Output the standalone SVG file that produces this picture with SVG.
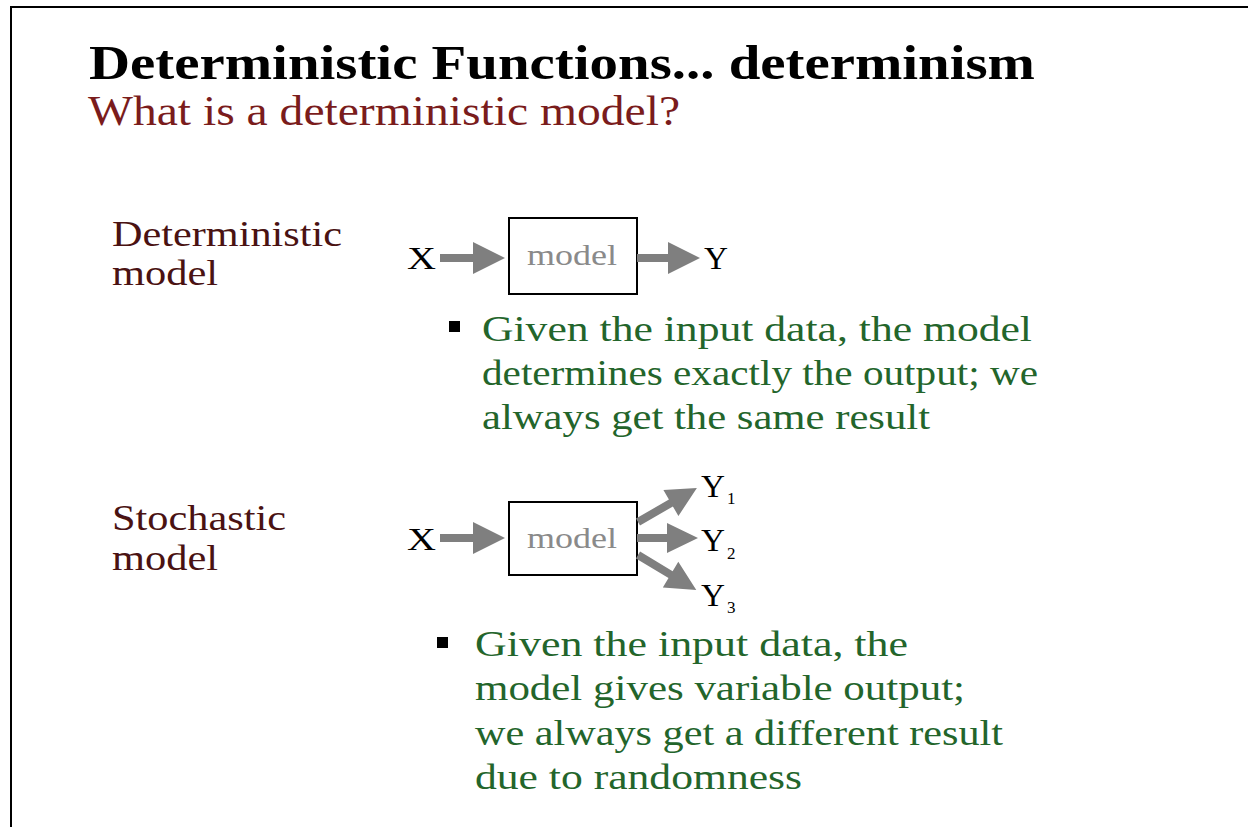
<svg xmlns="http://www.w3.org/2000/svg" width="1248" height="827" viewBox="0 0 1248 827">
<style>
.serif{font-family:"Liberation Serif","DejaVu Serif",serif}
.title{font-size:48px;font-weight:bold;fill:#000}
.sub{font-size:42px;fill:#7a1c1c}
.lab{font-size:35px;fill:#4a1212}
.body{font-size:35px;fill:#23652b}
.var{font-size:32px;fill:#000}
.subs{font-size:17px;fill:#000}
.mtxt{font-size:30px;fill:#8a8a8a}
.box{fill:#fff;stroke:#000;stroke-width:2}
.arr{fill:#7f7f7f}
</style>
<rect width="1248" height="827" fill="#fff"/>
<path d="M11,827 V7 H1248" fill="none" stroke="#000" stroke-width="2"/>
<text class="serif title" x="89" y="79" textLength="946" lengthAdjust="spacingAndGlyphs">Deterministic Functions... determinism</text>
<text class="serif sub" x="88" y="125" textLength="592" lengthAdjust="spacingAndGlyphs">What is a deterministic model?</text>
<g id="label-deterministic">
<text class="serif lab" x="112" y="246" textLength="230" lengthAdjust="spacingAndGlyphs">Deterministic</text>
<text class="serif lab" x="112" y="285" textLength="106" lengthAdjust="spacingAndGlyphs">model</text>
</g>
<g id="label-stochastic">
<text class="serif lab" x="112" y="530" textLength="174" lengthAdjust="spacingAndGlyphs">Stochastic</text>
<text class="serif lab" x="112" y="570" textLength="106" lengthAdjust="spacingAndGlyphs">model</text>
</g>
<g id="det-x"><text class="serif var" x="407" y="269" textLength="29" lengthAdjust="spacingAndGlyphs">X</text></g>
<g id="det-model"><rect class="box" x="509" y="218" width="128" height="76"/><text class="serif mtxt" x="527" y="265" textLength="90" lengthAdjust="spacingAndGlyphs">model</text></g>
<g id="det-y"><text class="serif var" x="704" y="269" textLength="24" lengthAdjust="spacingAndGlyphs">Y</text></g>
<g id="sto-x"><text class="serif var" x="407" y="550" textLength="29" lengthAdjust="spacingAndGlyphs">X</text></g>
<g id="sto-model"><rect class="box" x="509" y="502" width="128" height="73"/><text class="serif mtxt" x="527" y="548" textLength="90" lengthAdjust="spacingAndGlyphs">model</text></g>
<g id="sto-y1"><text class="serif var" x="701" y="497" textLength="24" lengthAdjust="spacingAndGlyphs">Y</text><text class="serif subs" x="727" y="504">1</text></g>
<g id="sto-y2"><text class="serif var" x="701" y="551" textLength="24" lengthAdjust="spacingAndGlyphs">Y</text><text class="serif subs" x="727" y="559">2</text></g>
<g id="sto-y3"><text class="serif var" x="701" y="606" textLength="24" lengthAdjust="spacingAndGlyphs">Y</text><text class="serif subs" x="727" y="613">3</text></g>
<g id="connectors">
<polygon class="arr" points="440,254 473,254 473,242 505,258 473,274 473,262 440,262"/>
<polygon class="arr" points="637,254 668,254 668,242 700,258 668,274 668,262 637,262"/>
<polygon class="arr" points="440,534 473,534 473,522 505,538 473,554 473,542 440,542"/>
<polygon class="arr" points="637,534 667,534 667,523 698,538 667,553 667,542 637,542"/>
<polygon class="arr" points="0,-4 38,-4 38,-15 68,0 38,15 38,4 0,4" transform="translate(638,522) rotate(-30)"/>
<polygon class="arr" points="0,-4 38,-4 38,-15 68,0 38,15 38,4 0,4" transform="translate(638,555) rotate(31)"/>
</g>
<g id="bullet-1">
<rect x="449" y="321" width="11" height="11" fill="#000"/>
<text class="serif body" x="482" y="341" textLength="550" lengthAdjust="spacingAndGlyphs">Given the input data, the model</text>
<text class="serif body" x="482" y="385" textLength="556" lengthAdjust="spacingAndGlyphs">determines exactly the output; we</text>
<text class="serif body" x="482" y="429" textLength="448" lengthAdjust="spacingAndGlyphs">always get the same result</text>
</g>
<g id="bullet-2">
<rect x="437" y="637" width="11" height="11" fill="#000"/>
<text class="serif body" x="475" y="656" textLength="433" lengthAdjust="spacingAndGlyphs">Given the input data, the</text>
<text class="serif body" x="475" y="700" textLength="490" lengthAdjust="spacingAndGlyphs">model gives variable output;</text>
<text class="serif body" x="475" y="745" textLength="528" lengthAdjust="spacingAndGlyphs">we always get a different result</text>
<text class="serif body" x="475" y="789" textLength="327" lengthAdjust="spacingAndGlyphs">due to randomness</text>
</g>
</svg>
